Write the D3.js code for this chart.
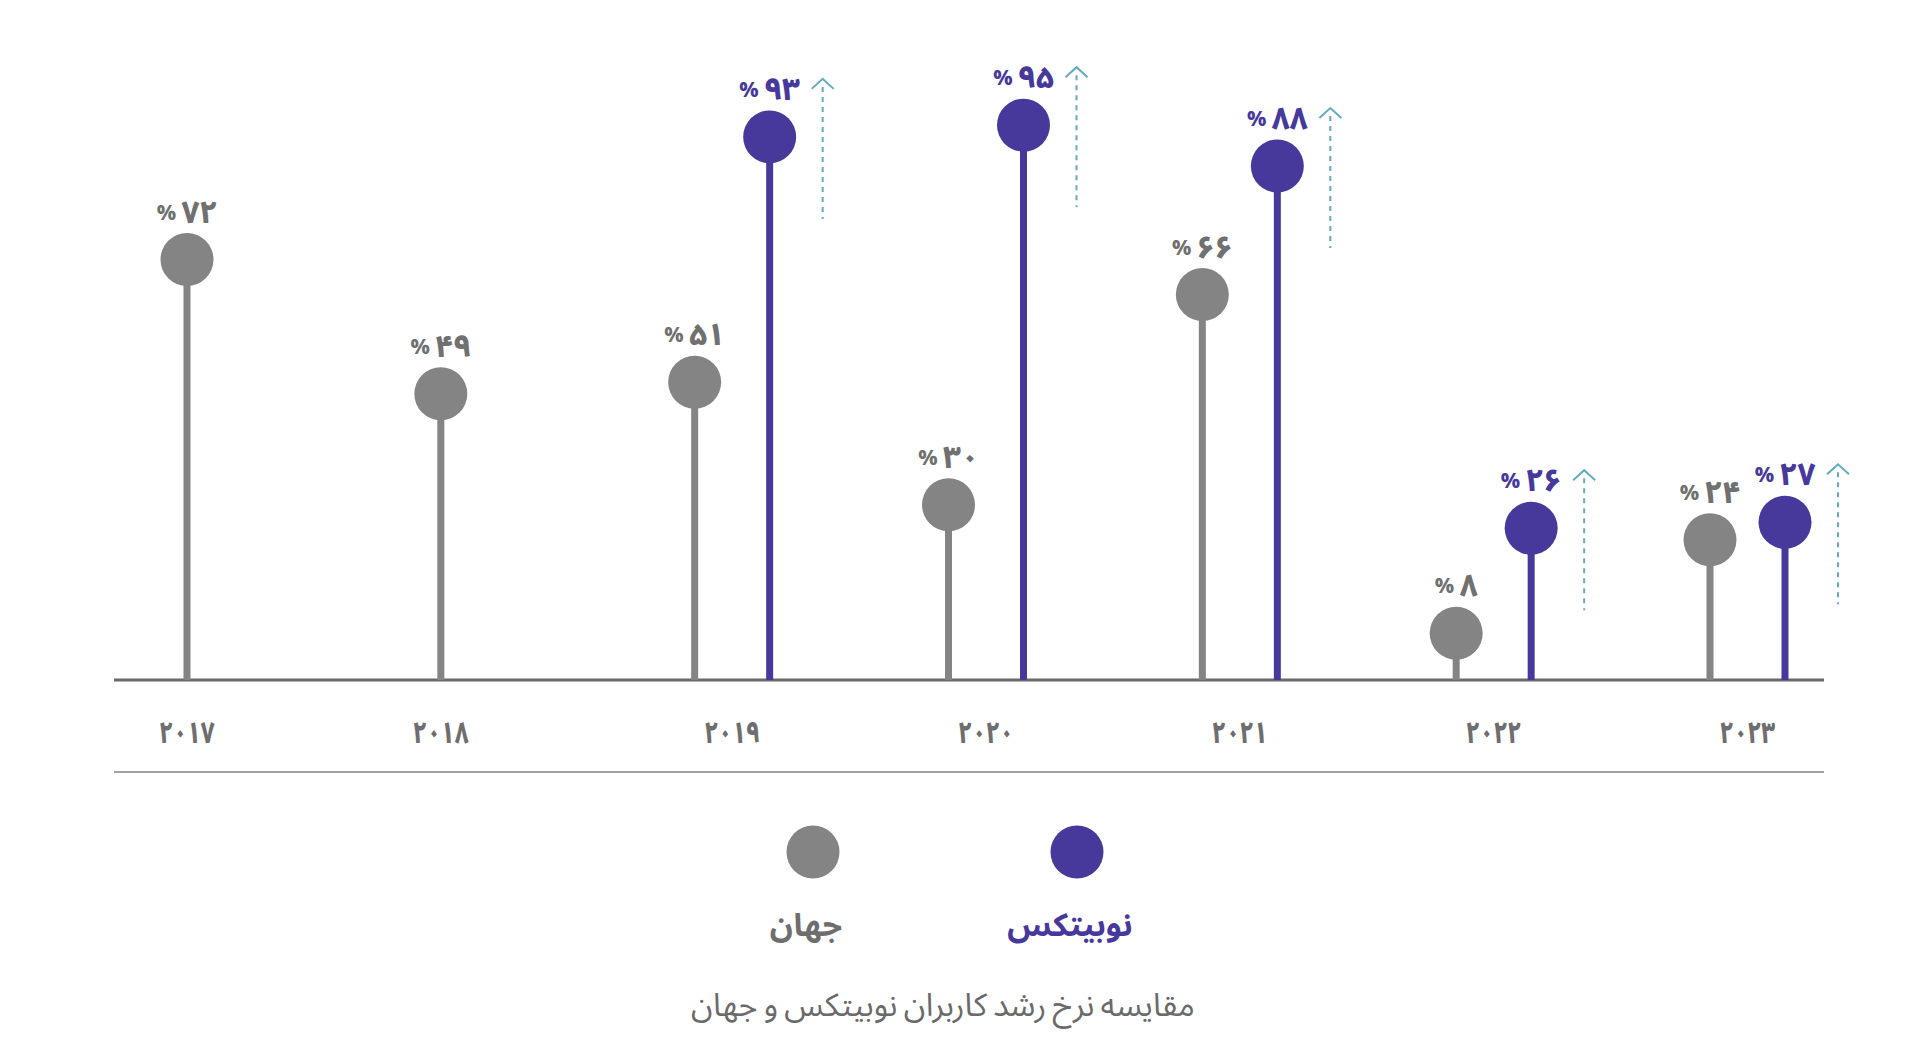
<!DOCTYPE html>
<html lang="fa">
<head>
<meta charset="utf-8">
<script src="https://cdn.jsdelivr.net/npm/d3@7"></script>
<style>
  html, body { margin: 0; padding: 0; background: #ffffff; }
  svg { display: block; }
  text { font-family: "Noto Sans Arabic", "Vazirmatn", "DejaVu Sans", sans-serif; }
</style>
</head>
<body>
<svg id="chart" width="1920" height="1057"></svg>
<script>
// Yearly user growth rate (%), world vs. Nobitex
const years = ["2017", "2018", "2019", "2020", "2021", "2022", "2023"];
const worldGrowth = [72, 49, 51, 30, 66, 8, 24];
const nobitexGrowth = [null, null, 93, 95, 88, 26, 27];
const seriesNames = ["جهان", "نوبیتکس"];
const chartTitle = "مقایسه نرخ رشد کاربران نوبیتکس و جهان";

const GRAY = "#848484";
const PURPLE = "#47399b";
const ARROW = "#62abc2";

const faDigits = s => String(s).replace(/\d/g, d => "۰۱۲۳۴۵۶۷۸۹"[d]);

const svg = d3.select("#chart");

// Gray stems sit on a point scale; Nobitex stems are offset to their right.
const x = d3.scalePoint().domain(years).range([187, 1710]);
const pairOffset = 75;
const y = d3.scaleLinear().domain([0, 100]).range([680, 96]);

const rows = years.map((yr, i) => ({
  year: yr,
  world: worldGrowth[i],
  nobitex: nobitexGrowth[i]
}));

// baseline and bottom rule
svg.append("line")
  .attr("x1", 114).attr("x2", 1824)
  .attr("y1", y(0)).attr("y2", y(0))
  .attr("stroke", "#6a6a6a").attr("stroke-width", 3);

svg.append("line")
  .attr("x1", 114).attr("x2", 1824)
  .attr("y1", 772).attr("y2", 772)
  .attr("stroke", "#a0a0a0").attr("stroke-width", 2);

// year labels: centred on the pair, or on the single stem (condensed digits)
svg.append("g").selectAll("text")
  .data(rows)
  .join("text")
  .attr("transform", d =>
    `translate(${x(d.year) + (d.nobitex != null ? pairOffset / 2 : 0)},734) scale(0.8,1)`)
  .attr("text-anchor", "middle")
  .attr("dominant-baseline", "central")
  .attr("font-size", 30)
  .attr("font-weight", 800)
  .attr("fill", "#6e6e6e")
  .text(d => faDigits(d.year));

function drawSeries(key, color, dx) {
  const data = rows.filter(d => d[key] != null);
  const g = svg.append("g");

  g.selectAll("line.stem")
    .data(data)
    .join("line")
    .attr("class", "stem")
    .attr("x1", d => x(d.year) + dx).attr("x2", d => x(d.year) + dx)
    .attr("y1", y(0)).attr("y2", d => y(d[key]))
    .attr("stroke", color).attr("stroke-width", 7);

  g.selectAll("circle")
    .data(data)
    .join("circle")
    .attr("cx", d => x(d.year) + dx)
    .attr("cy", d => y(d[key]))
    .attr("r", 26.5)
    .attr("fill", color);

  const labels = g.selectAll("text")
    .data(data)
    .join("text")
    .attr("x", d => x(d.year) + dx)
    .attr("y", d => y(d[key]) - 47)
    .attr("text-anchor", "middle")
    .attr("dominant-baseline", "central")
    .attr("direction", "ltr")
    .attr("font-weight", 800)
    .attr("fill", color === GRAY ? "#707070" : PURPLE);
  labels.append("tspan").attr("font-size", 21).text("% ");
  labels.append("tspan").attr("font-size", 31).attr("letter-spacing", -1)
    .text(d => faDigits(d[key]));

  return data;
}

drawSeries("world", GRAY, 0);
const nobi = drawSeries("nobitex", PURPLE, pairOffset);

// dashed upward arrows beside each Nobitex stem
const arrows = svg.append("g")
  .attr("fill", "none")
  .attr("stroke", ARROW)
  .attr("stroke-width", 2);

nobi.forEach(d => {
  const ax = x(d.year) + pairOffset + 53;
  const cy = y(d.nobitex);
  arrows.append("line")
    .attr("x1", ax).attr("x2", ax)
    .attr("y1", cy - 50).attr("y2", cy + 82)
    .attr("stroke-dasharray", "5,5");
  arrows.append("path")
    .attr("d", d3.line()([[ax - 11, cy - 48], [ax, cy - 58], [ax + 11, cy - 48]]));
});

// legend
const legend = [
  { name: seriesNames[0], color: GRAY, text: "#6e6e6e", cx: 813 },
  { name: seriesNames[1], color: PURPLE, text: PURPLE, cx: 1077 }
];
const lg = svg.append("g");
lg.selectAll("circle")
  .data(legend)
  .join("circle")
  .attr("cx", d => d.cx).attr("cy", 852).attr("r", 26.5)
  .attr("fill", d => d.color);
lg.selectAll("text")
  .data(legend)
  .join("text")
  .attr("x", d => d.cx - 7).attr("y", 926)
  .attr("text-anchor", "middle")
  .attr("dominant-baseline", "central")
  .attr("direction", "rtl")
  .attr("font-size", 32)
  .attr("font-weight", 700)
  .attr("fill", d => d.text)
  .text(d => d.name);

// caption
svg.append("text")
  .attr("x", 943).attr("y", 1006)
  .attr("text-anchor", "middle")
  .attr("dominant-baseline", "central")
  .attr("direction", "rtl")
  .attr("font-size", 32)
  .attr("word-spacing", -2)
  .attr("fill", "#6a6a6a")
  .text(chartTitle);
</script>
</body>
</html>
